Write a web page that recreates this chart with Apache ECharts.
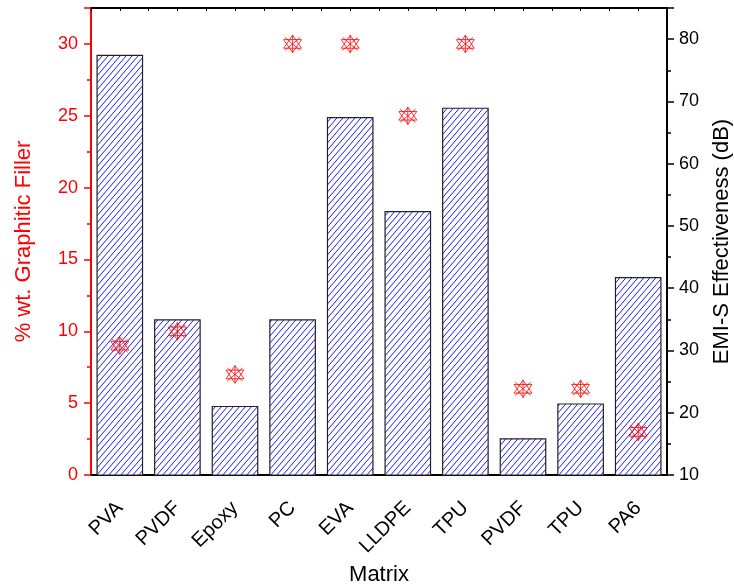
<!DOCTYPE html>
<html>
<head>
<meta charset="utf-8">
<script src="https://cdn.jsdelivr.net/npm/echarts@6/dist/echarts.min.js"></script>
<style>
  html, body { margin: 0; padding: 0; background: #fff; }
  #chart { width: 734px; height: 588px; }
</style>
</head>
<body>
<div id="chart"></div>
<script>
// data
var categories = ['PVA', 'PVDF', 'Epoxy', 'PC', 'EVA', 'LLDPE', 'TPU', 'PVDF', 'TPU', 'PA6'];
var shieldingDb = [77.5, 35.0, 21.1, 35.0, 67.5, 52.4, 69.0, 15.9, 21.5, 41.8];   // bars, right axis
var fillerWt = [9, 10, 7, 30, 30, 25, 30, 6, 6, 3];                              // stars, left axis

// hatch pattern for the bars (blue "/" lines on white)
var tile = document.createElement('canvas');
tile.width = 6; tile.height = 7;
var g = tile.getContext('2d');
g.fillStyle = '#ffffff';
g.fillRect(0, 0, 6, 7);
g.strokeStyle = '#1a1aff';
g.lineWidth = 1;
g.beginPath();
g.moveTo(0, 7); g.lineTo(6, 0);
g.moveTo(-1, 1.17); g.lineTo(1, -1.17);
g.moveTo(5, 8.17); g.lineTo(7, 5.83);
g.stroke();
var hatchImg = new Image();
hatchImg.src = tile.toDataURL();

// star symbol: two triangles + crossing lines
var starPath = 'path://M50,2 L92,74 L8,74 Z M50,98 L8,26 L92,26 Z ' +
  'M14,14 L86,86 M86,14 L14,86 M50,0 L50,100';

var myChart = echarts.init(document.getElementById('chart'));
var font = 'Liberation Sans, Arial, sans-serif';

option = {
	animation: false,
	grid: {
		left: 91,
		right: 67,
		top: 8,
		bottom: 113,
		containLabel: false,
		outerBoundsMode: 'none'
	},
	xAxis: [{
		type: 'category',
		data: categories,
		position: 'bottom',
		name: 'Matrix',
		nameLocation: 'middle',
		nameGap: 87,
		nameTextStyle: { fontFamily: font, fontSize: 22, color: '#000' },
		axisLine: { lineStyle: { color: '#000', width: 2 } },
		axisTick: { alignWithLabel: true, interval: 0, length: 7, lineStyle: { color: '#000', width: 1.5 } },
		axisLabel: { rotate: 45, interval: 0, fontFamily: font, fontSize: 20, color: '#000', margin: 30 },
		splitLine: { show: false }
	}, {
		type: 'value',
		position: 'top',
		min: 0,
		max: 10,
		interval: 0.5,
		axisLine: { show: true, onZero: false, lineStyle: { color: '#000', width: 2 } },
		axisTick: { show: true, inside: true, length: 3, lineStyle: { color: '#000' } },
		axisLabel: { show: false },
		splitLine: { show: false }
	}],
	yAxis: [{
		type: 'value',
		position: 'left',
		min: 0,
		max: 32.5,
		interval: 5,
		name: '% wt. Graphitic Filler',
		nameLocation: 'middle',
		nameGap: 56,
		nameRotate: 90,
		nameTextStyle: { fontFamily: font, fontSize: 22, color: '#ff0000' },
		axisLine: { show: true, lineStyle: { color: '#ff0000', width: 2 } },
		axisTick: { show: true, length: 7, lineStyle: { color: '#ff0000', width: 1.5 } },
		minorTick: { show: true, splitNumber: 2, length: 4, lineStyle: { color: '#ff0000', width: 1.5 } },
		axisLabel: { showMaxLabel: false, fontFamily: font, fontSize: 18, color: '#ff0000', margin: 13 },
		splitLine: { show: false }
	}, {
		type: 'value',
		position: 'right',
		min: 10,
		max: 85,
		interval: 10,
		name: 'EMI-S Effectiveness (dB)',
		nameLocation: 'middle',
		nameGap: 44,
		nameRotate: 90,
		nameTextStyle: { fontFamily: font, fontSize: 22, color: '#000' },
		axisLine: { show: true, lineStyle: { color: '#000', width: 2 } },
		axisTick: { show: true, length: 7, lineStyle: { color: '#000', width: 1.5 } },
		minorTick: { show: true, splitNumber: 2, length: 4, lineStyle: { color: '#000', width: 1.5 } },
		axisLabel: { showMaxLabel: false, fontFamily: font, fontSize: 18, color: '#000', margin: 12 },
		splitLine: { show: false }
	}],
	series: [{
		name: 'EMI-S Effectiveness',
		type: 'bar',
		xAxisIndex: 0,
		yAxisIndex: 1,
		barWidth: '81%',
		data: shieldingDb,
		itemStyle: {
			color: { image: hatchImg, repeat: 'repeat' },
			borderColor: '#222',
			borderWidth: 1.2
		}
	}, {
		name: '% wt. Graphitic Filler',
		type: 'scatter',
		xAxisIndex: 0,
		yAxisIndex: 0,
		symbol: starPath,
		symbolSize: 18,
		data: fillerWt,
		z: 5,
		itemStyle: {
			color: 'none',
			borderColor: '#ff0000',
			borderWidth: 1
		}
	}]
};

function draw() {
	if (option && typeof option === 'object') {
		myChart.setOption(option, true);
	}
}
if (hatchImg.complete) { draw(); } else { hatchImg.onload = draw; }
</script>
</body>
</html>
